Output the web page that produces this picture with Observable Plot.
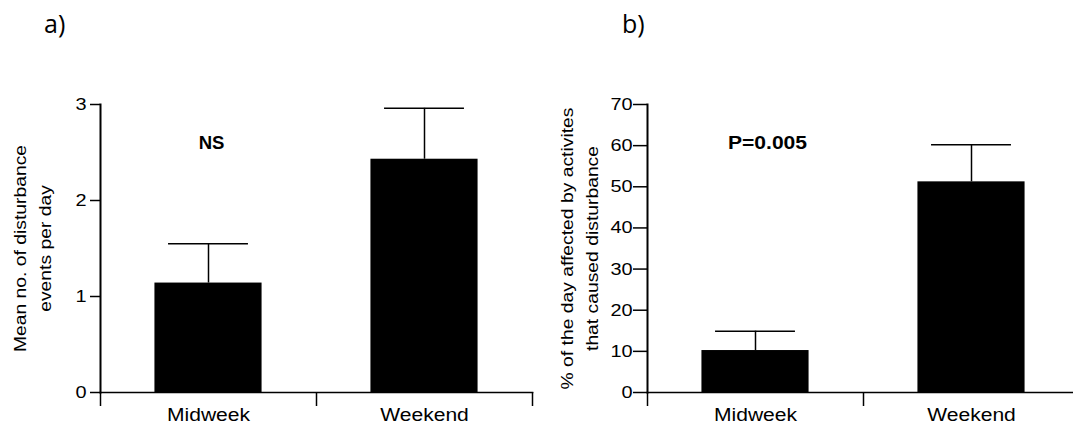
<!DOCTYPE html>
<html><head><meta charset="utf-8">
<script src="https://cdn.jsdelivr.net/npm/d3@7"></script>
<script src="https://cdn.jsdelivr.net/npm/@observablehq/plot@0.6"></script>
<style>
html,body{margin:0;padding:0;overflow:hidden;background:#fff;width:1073px;height:425px}
#wrap{position:relative;width:1073px;height:425px;overflow:hidden}
.panel{position:absolute;top:0}
.tag{position:absolute;font-family:"Open Sans",sans-serif;font-size:25px;line-height:1;color:#000}
</style></head><body>
<div id="wrap">
<div class="tag" style="left:44px;top:11px">a)</div>
<div class="tag" style="left:622px;top:11px">b)</div>
</div>
<script>
const categories = ["Midweek", "Weekend"];
const eventsMean = [1.14, 2.43];
const eventsSE = [0.41, 0.53];
const pctMean = [10.2, 51.2];
const pctSE = [4.7, 9.0];
const eventsTicks = [0, 1, 2, 3];
const pctTicks = [0, 10, 20, 30, 40, 50, 60, 70];
const eventsLabel = ["Mean no. of disturbance", "events per day"];
const pctLabel = ["% of the day affected by activites", "that caused disturbance"];
const notes = ["NS", "P=0.005"];

function panel({means, ses, ticks, domain, label, note, noteDx, marginLeft, marginRight, tickSize, tickPadding}) {
  const data = categories.map((c, i) => ({cat: c, mean: means[i], hi: means[i] + ses[i]}));
  const W = 540, H = 425;
  const bw = (W - marginLeft - marginRight) / 2;
  return Plot.plot({
    width: W, height: H, marginTop: 104, marginBottom: 33, marginLeft, marginRight,
    style: {fontFamily: "'Liberation Sans', Arial, sans-serif", fontSize: "17px", color: "#000", background: "transparent", overflow: "visible"},
    x: {domain: categories, padding: 0},
    y: {domain, ticks},
    marks: [
      Plot.barY(data, {x: "cat", y: "mean", fill: "#000", insetLeft: bw * 0.252, insetRight: bw * 0.252}),
      Plot.ruleX(data, {x: "cat", y1: "mean", y2: "hi", stroke: "#000", strokeWidth: 1.5}),
      Plot.tickY(data, {x: "cat", y: "hi", stroke: "#000", strokeWidth: 1.5, insetLeft: bw * 0.315, insetRight: bw * 0.315}),
      Plot.frame({anchor: "left", stroke: "#000", strokeWidth: 2}),
      Plot.frame({anchor: "bottom", stroke: "#000", strokeWidth: 1.7}),
      Plot.axisY({ticks, tickSize, tickPadding, tickFormat: d3.format("d"), label: null, fontSize: 17, strokeWidth: 1.5}),
      Plot.axisX({tickSize: 0, tickPadding: 16, label: null, fontSize: 18}),
      Plot.axisX(categories, {tickSize: 14, text: null, label: null, dx: -bw / 2, strokeWidth: 1.5}),
      Plot.axisX(categories.slice(-1), {tickSize: 14, text: null, label: null, dx: bw / 2, strokeWidth: 1.5}),
      Plot.text([label[0]], {frameAnchor: "left", rotate: -90, textAnchor: "middle", lineAnchor: "middle", dx: -80, fontSize: 16.5, text: d => d}),
      Plot.text([label[1]], {frameAnchor: "left", rotate: -90, textAnchor: "middle", lineAnchor: "middle", dx: -55, fontSize: 16.5, text: d => d}),
      Plot.text([note], {x: () => categories[0], frameAnchor: "top", lineAnchor: "middle", dy: 39, dx: noteDx, fontWeight: "bold", fontSize: 18, text: d => d})
    ]
  });
}

function stretch(svg, k) {
  svg.querySelectorAll("text").forEach(t => {
    if (t.querySelector("tspan")) return;
    const kk = t.textContent === "NS" ? 1.03 : k;
    const L = t.getComputedTextLength();
    if (L > 0) {
      t.setAttribute("textLength", (L * kk).toFixed(2));
      t.setAttribute("lengthAdjust", "spacingAndGlyphs");
    }
  });
}

const wrap = document.getElementById("wrap");
const a = panel({means: eventsMean, ses: eventsSE, ticks: eventsTicks, domain: [0, 3], label: eventsLabel, note: notes[0], noteDx: 3, marginLeft: 100, marginRight: 8, tickSize: 10, tickPadding: 4});
a.classList.add("panel"); a.style.left = "0px";
wrap.appendChild(a);
const b = panel({means: pctMean, ses: pctSE, ticks: pctTicks, domain: [0, 70], label: pctLabel, note: notes[1], noteDx: 12, marginLeft: 107, marginRight: 1, tickSize: 14, tickPadding: 1});
b.classList.add("panel"); b.style.left = "540px";
wrap.appendChild(b);
stretch(a, 1.17);
stretch(b, 1.17);
</script>
</body></html>
